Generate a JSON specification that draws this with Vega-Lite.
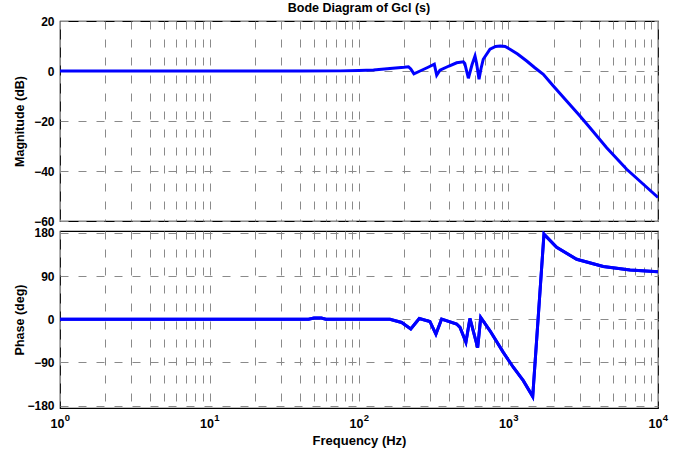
{
  "$schema": "https://vega.github.io/schema/vega-lite/v6.json",
  "background": "white",
  "padding": {"left": 12, "top": 0, "right": 30, "bottom": 2},
  "spacing": 10,
  "bounds": "flush",
  "config": {
    "font": "Liberation Sans",
    "view": {"stroke": "black", "strokeWidth": 1.2},
    "axis": {
      "labelFont": "Liberation Sans",
      "labelFontWeight": "bold",
      "labelFontSize": 12,
      "labelColor": "black",
      "titleFont": "Liberation Sans",
      "titleFontWeight": "bold",
      "titleFontSize": 12.5,
      "titleColor": "black",
      "gridColor": "#8a8a8a",
      "gridDash": [8, 10],
      "gridWidth": 1,
      "gridOpacity": 1,
      "domain": false,
      "ticks": false
    }
  },
  "datasets": {
    "magnitude": [
      {"f": 1, "dB": 0}, {"f": 10, "dB": 0}, {"f": 40, "dB": 0}, {"f": 75, "dB": 0.05},
      {"f": 100, "dB": 0.2}, {"f": 125, "dB": 0.4}, {"f": 161, "dB": 1.0}, {"f": 200, "dB": 1.5},
      {"f": 214, "dB": 1.7}, {"f": 222, "dB": 0.8}, {"f": 233, "dB": -1.1}, {"f": 256, "dB": 0},
      {"f": 290, "dB": 1.5}, {"f": 319, "dB": 2.7}, {"f": 331, "dB": -1.7}, {"f": 348, "dB": 0.3},
      {"f": 400, "dB": 2.0}, {"f": 450, "dB": 3.3}, {"f": 499, "dB": 3.7}, {"f": 510, "dB": 3.0},
      {"f": 539, "dB": -2.9}, {"f": 570, "dB": 2.5}, {"f": 597, "dB": 6.0}, {"f": 612, "dB": 3.0},
      {"f": 635, "dB": -3.3}, {"f": 655, "dB": 1.0}, {"f": 678, "dB": 4.7}, {"f": 752, "dB": 8.7},
      {"f": 820, "dB": 9.8}, {"f": 880, "dB": 10.0}, {"f": 950, "dB": 9.8}, {"f": 1023, "dB": 8.7},
      {"f": 1150, "dB": 6.8}, {"f": 1324, "dB": 4.0}, {"f": 1500, "dB": 1.3}, {"f": 1709, "dB": -1.3},
      {"f": 1995, "dB": -6}, {"f": 2449, "dB": -12}, {"f": 3007, "dB": -18}, {"f": 3507, "dB": -22.7},
      {"f": 4536, "dB": -30.7}, {"f": 6175, "dB": -39.3}, {"f": 7980, "dB": -45.3}, {"f": 10000, "dB": -50.6}
    ],
    "phase": [
      {"f": 1, "deg": 0}, {"f": 10, "deg": 0}, {"f": 46, "deg": 0}, {"f": 50, "deg": 2.5},
      {"f": 56, "deg": 2.5}, {"f": 60, "deg": 0}, {"f": 161, "deg": 0}, {"f": 193, "deg": -6.7},
      {"f": 222, "deg": -20}, {"f": 253, "deg": 1.7}, {"f": 298, "deg": -4.6}, {"f": 327, "deg": -31},
      {"f": 357, "deg": 0.4}, {"f": 450, "deg": -10}, {"f": 474, "deg": -17}, {"f": 519, "deg": -48},
      {"f": 552, "deg": 1.7}, {"f": 622, "deg": -59}, {"f": 652, "deg": 3.7}, {"f": 752, "deg": -24},
      {"f": 923, "deg": -69}, {"f": 1076, "deg": -100}, {"f": 1256, "deg": -128}, {"f": 1452, "deg": -161},
      {"f": 1727, "deg": 177.5}, {"f": 2099, "deg": 150}, {"f": 2858, "deg": 125}, {"f": 4305, "deg": 110},
      {"f": 6500, "deg": 102.5}, {"f": 10000, "deg": 99}
    ]
  },
  "vconcat": [
    {
      "width": 598,
      "height": 200,
      "title": {"text": "Bode Diagram of Gcl (s)", "font": "Liberation Sans", "fontSize": 12.5, "fontWeight": "bold", "color": "black", "offset": 1},
      "data": {"name": "magnitude"},
      "mark": {"type": "line", "color": "#0000ff", "strokeWidth": 3, "clip": true},
      "encoding": {
        "x": {
          "field": "f", "type": "quantitative",
          "scale": {"type": "log", "domain": [1, 10000], "nice": false},
          "axis": {
            "values": [1,2,3,4,5,6,7,8,9,10,20,30,40,50,60,70,80,90,100,200,300,400,500,600,700,800,900,1000,2000,3000,4000,5000,6000,7000,8000,9000,10000],
            "labels": false, "title": null, "grid": true, "labelPadding": 0, "minExtent": 0, "maxExtent": 0
          }
        },
        "y": {
          "field": "dB", "type": "quantitative",
          "scale": {"domain": [-60, 20], "nice": false, "zero": false},
          "axis": {"values": [-60, -40, -20, 0, 20], "title": "Magnitude (dB)", "labelPadding": 6, "minExtent": 32, "maxExtent": 32, "titlePadding": 2}
        }
      }
    },
    {
      "width": 598,
      "height": 177,
      "data": {"name": "phase"},
      "encoding": {
        "y": {
          "field": "deg", "type": "quantitative",
          "scale": {"domain": [-185, 184], "nice": false, "zero": false},
          "axis": {"values": [-180, -90, 0, 90, 180], "title": "Phase (deg)", "labelPadding": 6, "minExtent": 32, "maxExtent": 32, "titlePadding": 2}
        }
      },
      "layer": [
        {
          "mark": {"type": "line", "color": "#0000ff", "strokeWidth": 3, "clip": true},
          "encoding": {
            "x": {
              "field": "f", "type": "quantitative",
              "scale": {"type": "log", "domain": [1, 10000], "nice": false},
              "axis": {
                "orient": "bottom",
                "values": [1,2,3,4,5,6,7,8,9,10,20,30,40,50,60,70,80,90,100,200,300,400,500,600,700,800,900,1000,2000,3000,4000,5000,6000,7000,8000,9000,10000],
                "labelExpr": "indexof([1, 10, 100, 1000, 10000], datum.value) >= 0 ? '10' : ''",
                "labelFontSize": 12.5,
                "labelOffset": -3,
                "labelFlush": false,
                "labelOverlap": false,
                "labelPadding": 9,
                "title": "Frequency (Hz)",
                "titleFontSize": 13,
                "titlePadding": 5,
                "grid": true
              }
            }
          }
        },
        {
          "mark": {"type": "line", "color": "#0000ff", "strokeWidth": 3, "clip": true},
          "encoding": {
            "x": {
              "field": "f", "type": "quantitative",
              "scale": {"type": "log", "domain": [1, 10000], "nice": false},
              "axis": {
                "orient": "bottom",
                "values": [1, 10, 100, 1000, 10000],
                "labelExpr": "datum.value == 1 ? '0' : datum.value == 10 ? '1' : datum.value == 100 ? '2' : datum.value == 1000 ? '3' : '4'",
                "labelFontSize": 9.5,
                "labelOffset": 7,
                "labelFlush": false,
                "labelOverlap": false,
                "labelPadding": 4,
                "title": null,
                "grid": false
              }
            }
          }
        }
      ],
      "resolve": {"axis": {"x": "independent"}}
    }
  ]
}
